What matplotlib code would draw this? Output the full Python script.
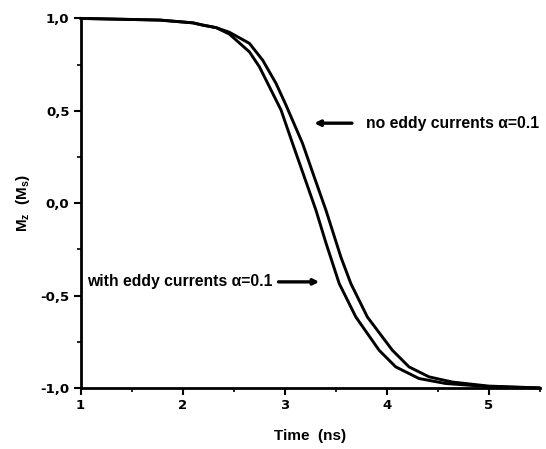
import matplotlib
matplotlib.use("Agg")
import matplotlib.pyplot as plt
from matplotlib.ticker import MultipleLocator, FuncFormatter

plt.rcParams['font.family'] = ['Liberation Sans', 'DejaVu Sans']
plt.rcParams['font.weight'] = 'bold'
plt.rcParams['mathtext.fontset'] = 'custom'
plt.rcParams['mathtext.rm'] = 'Liberation Sans:bold'
plt.rcParams['mathtext.bf'] = 'Liberation Sans:bold'
plt.rcParams['mathtext.it'] = 'Liberation Sans:bold'

# Magnetisation switching, with and without eddy currents
t_eddy = [1.0, 1.775, 2.101, 2.196, 2.329, 2.459, 2.655, 2.753, 2.851, 2.965, 3.078,
          3.193, 3.307, 3.405, 3.535, 3.698, 3.926, 4.089, 4.317, 4.578, 5.0, 5.5]
m_eddy = [1.0, 0.991, 0.976, 0.964, 0.95, 0.915, 0.819, 0.738, 0.63, 0.504, 0.323,
          0.142, -0.038, -0.215, -0.435, -0.616, -0.796, -0.886, -0.949, -0.976,
          -0.993, -1.0]

t_noeddy = [1.0, 1.775, 2.101, 2.196, 2.329, 2.459, 2.655, 2.785, 2.916, 3.014,
            3.176, 3.29, 3.405, 3.551, 3.649, 3.811, 4.056, 4.219, 4.415, 4.642, 5.0, 5.5]
m_noeddy = [1.0, 0.991, 0.976, 0.964, 0.95, 0.925, 0.865, 0.774, 0.648, 0.53,
            0.323, 0.142, -0.038, -0.291, -0.435, -0.616, -0.796, -0.886, -0.94,
            -0.968, -0.99, -1.0]

x_ticks = [1, 2, 3, 4, 5]
y_ticks = [-1.0, -0.5, 0.0, 0.5, 1.0]

fig = plt.figure(figsize=(5.46, 4.49), dpi=100)
ax = fig.add_axes([0.1475, 0.136, 0.841, 0.823])

ax.plot(t_eddy, m_eddy, color='black', lw=2.1, solid_joinstyle='round',
        solid_capstyle='round', clip_on=False)
ax.plot(t_noeddy, m_noeddy, color='black', lw=2.1, solid_joinstyle='round',
        solid_capstyle='round', clip_on=False)

ax.set_xlim(1, 5.5)
ax.set_ylim(-1.0, 1.0)
ax.set_xticks(x_ticks)
ax.set_yticks(y_ticks)
ax.xaxis.set_minor_locator(MultipleLocator(0.5))
ax.yaxis.set_minor_locator(MultipleLocator(0.25))
ax.yaxis.set_major_formatter(FuncFormatter(lambda v, p: f"{v:.1f}".replace('.', ',')))

for side in ('top', 'right'):
    ax.spines[side].set_visible(False)
for side in ('left', 'bottom'):
    ax.spines[side].set_linewidth(2.0)

ax.tick_params(axis='both', which='major', direction='out', length=5, width=1.5,
               labelsize=9.5, pad=3)
ax.tick_params(axis='both', which='minor', direction='out', length=3, width=1.2)
for lab in ax.get_xticklabels() + ax.get_yticklabels():
    lab.set_fontweight('bold')
    lab.set_family('DejaVu Sans')

ax.set_xlabel('Time  (ns)', fontsize=11, fontweight='bold', labelpad=12)
ax.set_ylabel(r'$\mathbf{M_z\ \ (M_s)}$', fontsize=11, labelpad=6)

ax.annotate('', xy=(3.29, 0.433), xytext=(3.66, 0.433),
            arrowprops=dict(arrowstyle='-|>', color='black', lw=2.4,
                            mutation_scale=8, shrinkA=0, shrinkB=0))
ax.text(3.80, 0.433, 'no eddy currents α=0.1', fontsize=11.3, fontweight='bold',
        va='center', ha='left')

ax.text(1.06, -0.426, 'with eddy currents α=0.1', fontsize=11.3, fontweight='bold',
        va='center', ha='left')
ax.annotate('', xy=(3.34, -0.426), xytext=(2.94, -0.426),
            arrowprops=dict(arrowstyle='-|>', color='black', lw=2.4,
                            mutation_scale=8, shrinkA=0, shrinkB=0))

fig.savefig('out.png', dpi=100)
